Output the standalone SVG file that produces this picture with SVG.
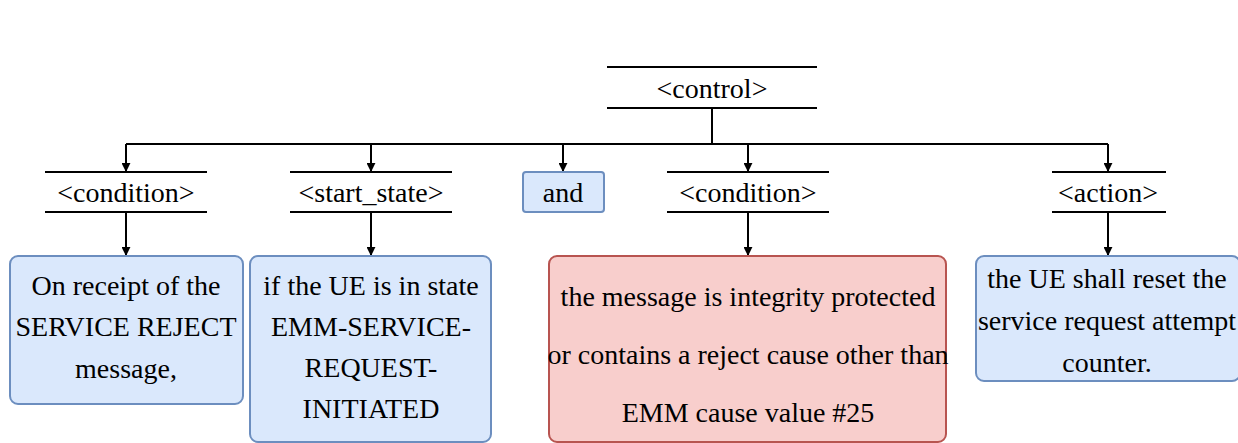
<svg xmlns="http://www.w3.org/2000/svg" width="1238" height="443" viewBox="0 0 1238 443">
  <style>
    .lbl { font-family: "Liberation Serif", "Times New Roman", serif; font-size: 28px; fill: #000; text-anchor: middle; }
    .bar { stroke: #000; stroke-width: 2; }
    .blue { fill: #dae8fc; stroke: #6c8ebf; stroke-width: 2; }
    .red { fill: #f8cecc; stroke: #b85450; stroke-width: 2; }
    .edge { fill: none; stroke: #000; stroke-width: 2; }
  </style>
  <defs>
    <marker id="arrow" viewBox="0 0 10 10" refX="9" refY="5" markerWidth="4.5" markerHeight="4.5" orient="auto" markerUnits="strokeWidth">
      <path d="M0,0 L10,5 L0,10 Z" fill="#000"/>
    </marker>
  </defs>

  <!-- connectors: trunk, bus and arrows into each child -->
  <g id="connectors">
    <path class="edge" d="M712,108 V144"/>
    <path class="edge" d="M126,144 H1108"/>
    <path class="edge" d="M126,144 V171" marker-end="url(#arrow)"/>
    <path class="edge" d="M371,144 V171" marker-end="url(#arrow)"/>
    <path class="edge" d="M563,144 V171" marker-end="url(#arrow)"/>
    <path class="edge" d="M748,144 V171" marker-end="url(#arrow)"/>
    <path class="edge" d="M1108,144 V171" marker-end="url(#arrow)"/>
    <path class="edge" d="M126,212 V255" marker-end="url(#arrow)"/>
    <path class="edge" d="M371,212 V255" marker-end="url(#arrow)"/>
    <path class="edge" d="M748,212 V255" marker-end="url(#arrow)"/>
    <path class="edge" d="M1108,212 V255" marker-end="url(#arrow)"/>
  </g>

  <!-- root -->
  <g id="control">
    <line class="bar" x1="607" y1="67" x2="817" y2="67"/>
    <line class="bar" x1="607" y1="108" x2="817" y2="108"/>
    <text class="lbl" x="712" y="98">&lt;control&gt;</text>
  </g>

  <!-- second level -->
  <g id="condition1">
    <line class="bar" x1="45" y1="172" x2="207" y2="172"/>
    <line class="bar" x1="45" y1="212" x2="207" y2="212"/>
    <text class="lbl" x="126" y="202">&lt;condition&gt;</text>
  </g>
  <g id="start_state">
    <line class="bar" x1="290" y1="172" x2="452" y2="172"/>
    <line class="bar" x1="290" y1="212" x2="452" y2="212"/>
    <text class="lbl" x="371" y="202">&lt;start_state&gt;</text>
  </g>
  <g id="and">
    <rect class="blue" x="523" y="172" width="81" height="40" rx="3"/>
    <text class="lbl" x="563" y="202">and</text>
  </g>
  <g id="condition2">
    <line class="bar" x1="667" y1="172" x2="829" y2="172"/>
    <line class="bar" x1="667" y1="212" x2="829" y2="212"/>
    <text class="lbl" x="748" y="202">&lt;condition&gt;</text>
  </g>
  <g id="action">
    <line class="bar" x1="1052" y1="172" x2="1166" y2="172"/>
    <line class="bar" x1="1052" y1="212" x2="1166" y2="212"/>
    <text class="lbl" x="1108" y="202">&lt;action&gt;</text>
  </g>

  <!-- leaves -->
  <g id="leaf_receipt">
    <rect class="blue" x="10" y="256" width="233" height="148" rx="8"/>
    <text class="lbl" x="126" y="295">On receipt of the</text>
    <text class="lbl" x="126" y="336">SERVICE REJECT</text>
    <text class="lbl" x="126" y="378">message,</text>
  </g>
  <g id="leaf_state">
    <rect class="blue" x="250" y="256" width="241" height="186" rx="8"/>
    <text class="lbl" x="371" y="295">if the UE is in state</text>
    <text class="lbl" x="371" y="336">EMM-SERVICE-</text>
    <text class="lbl" x="371" y="377">REQUEST-</text>
    <text class="lbl" x="371" y="418">INITIATED</text>
  </g>
  <g id="leaf_integrity">
    <rect class="red" x="549" y="256" width="397" height="186" rx="8"/>
    <text class="lbl" x="748" y="306">the message is integrity protected</text>
    <text class="lbl" x="748" y="364">or contains a reject cause other than</text>
    <text class="lbl" x="748" y="422">EMM cause value #25</text>
  </g>
  <g id="leaf_reset">
    <rect class="blue" x="976" y="256" width="264" height="125" rx="8"/>
    <text class="lbl" x="1107" y="288">the UE shall reset the</text>
    <text class="lbl" x="1107" y="330">service request attempt</text>
    <text class="lbl" x="1107" y="372">counter.</text>
  </g>
</svg>
